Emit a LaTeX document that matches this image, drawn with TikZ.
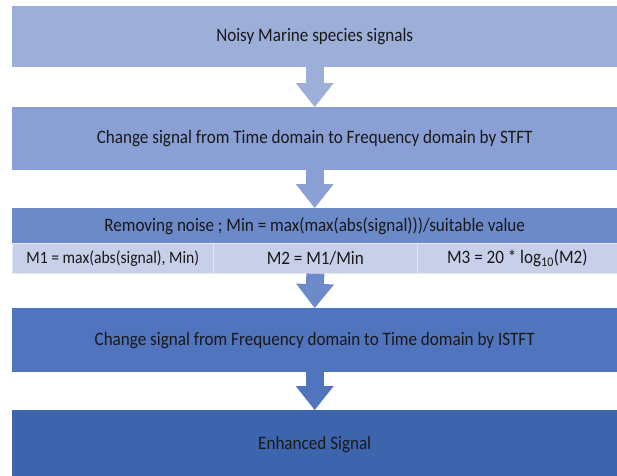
\documentclass[tikz,border=0pt]{standalone}
\usepackage{fontspec}
\setmainfont{Carlito}[FakeStretch=0.9]
\usepackage{xcolor}
\usetikzlibrary{arrows.meta}

\definecolor{boxa}{HTML}{9DAED9}
\definecolor{boxb}{HTML}{8A9FD4}
\definecolor{boxc}{HTML}{6C89C8}
\definecolor{boxsub}{HTML}{C8CFE8}
\definecolor{boxd}{HTML}{5074BE}
\definecolor{boxe}{HTML}{3D65AE}

\begin{document}
\begin{tikzpicture}[x=1pt,y=-1pt,
  stage/.style={anchor=north west,inner sep=0pt,minimum width=605pt,
    text=black!90,font=\fontsize{19}{22}\selectfont},
  cell/.style={anchor=north west,inner sep=0pt,minimum height=30pt,
    fill=boxsub,draw=white!55!boxsub,line width=0.6pt,
    text=black!90,font=\fontsize{19}{22}\selectfont},
  flow/.style={line width=18pt,draw=#1,
    -{Triangle[width=38pt,length=24pt,line width=0pt,fill=#1]}}]

\useasboundingbox (0,0) rectangle (617,475);

\node[stage,fill=boxa,minimum height=61pt] (noisy) at (12,6) {Noisy Marine species signals};
\node[stage,fill=boxb,minimum height=63pt] (stft) at (12,107) {Change signal from Time domain to Frequency domain by STFT};
\node[stage,fill=boxc,minimum height=35pt] (remove) at (12,208) {Removing noise ; Min = max(max(abs(signal)))/suitable value};

\node[cell,minimum width=201pt] (mone) at (12,243) {\fontsize{17.4}{20}\selectfont M1 = max(abs(signal), Min)};
\node[cell,minimum width=204pt] (mtwo) at (213,243) {M2 = M1/Min};
\node[cell,minimum width=200pt] (mthree) at (417,243) {M3 = 20 * log\textsubscript{10}(M2)};

\node[stage,fill=boxd,minimum height=64pt] (istft) at (12,308) {Change signal from Frequency domain to Time domain by ISTFT};
\node[stage,fill=boxe,minimum height=68pt] (enhanced) at (12,410) {Enhanced Signal};

\draw[flow=boxa] (noisy.south) -- (stft.north);
\draw[flow=boxb] (stft.south) -- (remove.north);
\draw[flow=boxc] (mtwo.south) -- (istft.north);
\draw[flow=boxd] (istft.south) -- (enhanced.north);

\end{tikzpicture}
\end{document}
